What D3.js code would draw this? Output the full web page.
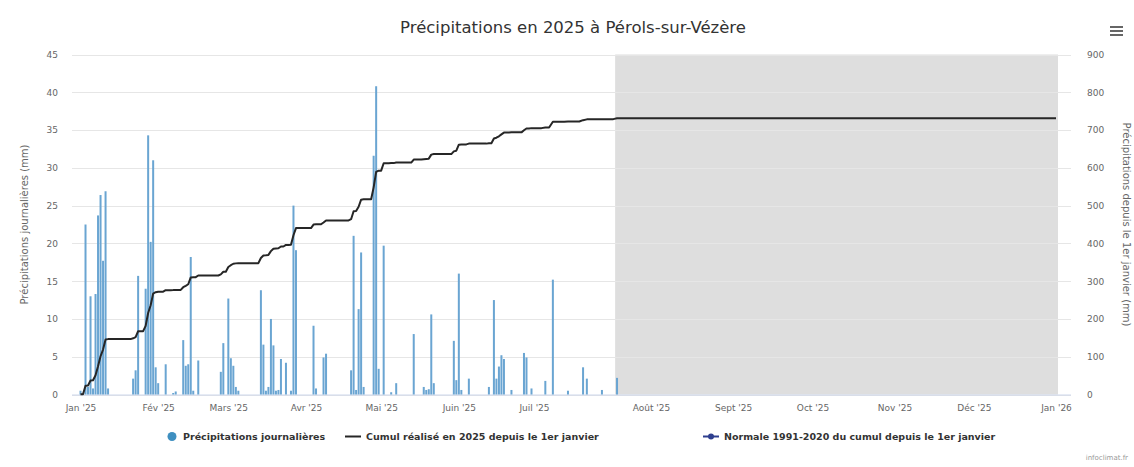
<!DOCTYPE html>
<html><head><meta charset="utf-8">
<script src="https://cdn.jsdelivr.net/npm/d3@7"></script>
<style>
html,body{margin:0;padding:0;background:#fff;}
svg{display:block;font-family:"DejaVu Sans","Liberation Sans",Arial,sans-serif;}
</style></head><body>
<svg id="chart" width="1134" height="467"></svg>
<script>
// ---- data ----
const titleText = "Précipitations en 2025 à Pérols-sur-Vézère";
const rainDates = [
 "2025-01-01","2025-01-03","2025-01-04","2025-01-05","2025-01-06","2025-01-07","2025-01-08","2025-01-09","2025-01-10","2025-01-11","2025-01-12",
 "2025-01-22","2025-01-23","2025-01-24","2025-01-27","2025-01-28","2025-01-29","2025-01-30","2025-01-31","2025-02-01",
 "2025-02-04","2025-02-07","2025-02-08","2025-02-11","2025-02-12","2025-02-13","2025-02-14","2025-02-15","2025-02-17",
 "2025-02-26","2025-02-27","2025-03-01","2025-03-02","2025-03-03","2025-03-04","2025-03-05",
 "2025-03-14","2025-03-15","2025-03-16","2025-03-17","2025-03-18","2025-03-19","2025-03-20","2025-03-21","2025-03-22","2025-03-24","2025-03-26","2025-03-27","2025-03-28",
 "2025-04-04","2025-04-05","2025-04-08","2025-04-09","2025-04-19","2025-04-20","2025-04-21","2025-04-22","2025-04-23","2025-04-24",
 "2025-04-28","2025-04-29","2025-04-30","2025-05-02","2025-05-05","2025-05-07","2025-05-14","2025-05-18","2025-05-19","2025-05-20","2025-05-21","2025-05-22",
 "2025-05-30","2025-05-31","2025-06-01","2025-06-02","2025-06-05","2025-06-13","2025-06-15","2025-06-16","2025-06-17","2025-06-18","2025-06-19",
 "2025-06-22","2025-06-27","2025-06-28","2025-06-30","2025-07-04","2025-07-06","2025-07-10","2025-07-14","2025-07-15","2025-07-19","2025-07-23"
];
const rainMm = [
 0.5,22.5,1.0,13.0,0.8,13.3,23.7,26.4,17.7,26.9,0.8,
 2.1,3.2,15.7,14.0,34.3,20.2,31.0,3.6,1.5,
 4.0,0.2,0.4,7.2,3.8,4.0,18.2,0.5,4.5,
 3.0,6.8,12.7,4.8,3.8,1.0,0.5,
 13.8,6.6,0.5,1.0,10.0,6.5,0.5,0.6,4.7,4.2,0.5,25.0,19.1,
 9.1,0.8,4.9,5.4,3.2,21.0,0.6,11.3,18.8,1.0,
 31.6,40.8,3.4,19.7,0.3,1.5,8.0,1.0,0.6,0.7,10.6,1.5,
 7.1,1.9,16.0,0.6,2.1,1.0,12.5,2.1,3.7,5.2,4.7,
 0.6,5.5,4.9,0.8,1.8,15.2,0.5,3.6,2.1,0.6,2.2
];
const monthTicks = ["2025-01-01","2025-02-01","2025-03-01","2025-04-01","2025-05-01","2025-06-01","2025-07-01","2025-08-01","2025-09-01","2025-10-01","2025-11-01","2025-12-01","2026-01-01"];
const monthLabels = ["Jan '25","Fév '25","Mars '25","Avr '25","Mai '25","Juin '25","Juil '25","Août '25","Sept '25","Oct '25","Nov '25","Déc '25","Jan '26"];
const leftTicks = [0,5,10,15,20,25,30,35,40,45];
const rightTicks = [0,100,200,300,400,500,600,700,800,900];
const leftTitle = "Précipitations journalières (mm)";
const rightTitle = "Précipitations depuis le 1er janvier (mm)";
const legendLabels = ["Précipitations journalières","Cumul réalisé en 2025 depuis le 1er janvier","Normale 1991-2020 du cumul depuis le 1er janvier"];
const bandStart = "2025-07-22T12:00:00Z";
const bandEnd = "2026-01-01";
const yearStart = "2025-01-01", yearEnd = "2026-01-01";
const creditText = "infoclimat.fr";

// ---- layout ----
const svg = d3.select("#chart");
const W = 1134, H = 467;
const plotL = 72, plotR = 1071, plotT = 54.5, plotB = 394.5;
const parse = s => new Date(s.length === 10 ? s + "T00:00:00Z" : s);

const x = d3.scaleUtc()
  .domain([parse("2025-01-01"), parse("2025-07-01"), parse("2025-08-01"), parse("2026-01-01")])
  .range([80.5, 534, 651, 1056]);
const yL = d3.scaleLinear().domain([0,45]).range([plotB, plotT]);
const yR = d3.scaleLinear().domain([0,900]).range([plotB, plotT]);

svg.append("rect").attr("width",W).attr("height",H).attr("fill","#fff");

// plot band
svg.append("rect")
  .attr("x", x(parse(bandStart))).attr("y", plotT)
  .attr("width", x(parse(bandEnd)) - x(parse(bandStart)) + 2)
  .attr("height", plotB - plotT).attr("fill", "#dedede");

// gridlines
svg.append("g").selectAll("line").data(leftTicks).join("line")
  .attr("x1", plotL).attr("x2", plotR)
  .attr("y1", d => Math.round(yL(d)) + 0.5).attr("y2", d => Math.round(yL(d)) + 0.5)
  .attr("stroke", "#e6e6e6").attr("stroke-width", 1);

// left axis labels
const gL = svg.append("g").attr("transform", `translate(${plotL - 14},0)`)
  .call(d3.axisLeft(yL).tickValues(leftTicks).tickSize(0).tickPadding(0));
gL.select(".domain").remove();
gL.selectAll("text").attr("font-size", 9).attr("fill", "#666").attr("font-family", "DejaVu Sans");

// right axis labels
const gR = svg.append("g").attr("transform", `translate(${plotR + 16},0)`)
  .call(d3.axisRight(yR).tickValues(rightTicks).tickSize(0).tickPadding(0));
gR.select(".domain").remove();
gR.selectAll("text").attr("font-size", 9).attr("fill", "#666").attr("font-family", "DejaVu Sans");

// x axis
const gX = svg.append("g").attr("transform", `translate(0,${plotB})`)
  .call(d3.axisBottom(x).tickValues(monthTicks.map(parse)).tickSize(0).tickPadding(10)
    .tickFormat((d,i) => monthLabels[i]));
gX.select(".domain").attr("stroke", "#ccd6eb").attr("d", `M${plotL},0.5H${plotR}`);
gX.selectAll("text").attr("font-size", 9).attr("fill", "#666").attr("font-family", "DejaVu Sans");

// axis titles
svg.append("text").attr("transform", `translate(28,${(plotT+plotB)/2}) rotate(-90)`)
  .attr("text-anchor","middle").attr("font-size",10).attr("fill","#666").text(leftTitle);
svg.append("text").attr("transform", `translate(1123,${(plotT+plotB)/2}) rotate(90)`)
  .attr("text-anchor","middle").attr("font-size",10).attr("fill","#666").text(rightTitle);

// bars
const bw = 2;
svg.append("g").selectAll("rect").data(rainDates.map((d,i) => ({date: parse(d), v: rainMm[i]}))).join("rect")
  .attr("x", d => x(d.date) - bw/2).attr("width", bw)
  .attr("y", d => yL(d.v)).attr("height", d => plotB - yL(d.v))
  .attr("fill", "#6aa5d2");

// cumulative line (running sum of daily values)
const rainByDay = new Map(rainDates.map((d,i) => [d, rainMm[i]]));
const days = d3.utcDay.range(parse(yearStart), d3.utcDay.offset(parse(yearEnd), 1));
let acc = 0;
const cumul = days.map(d => { acc += rainByDay.get(d.toISOString().slice(0,10)) || 0; return {date: d, v: acc}; });
svg.append("path").datum(cumul)
  .attr("d", d3.line().x(d => x(d.date)).y(d => yR(d.v)))
  .attr("fill","none").attr("stroke","#262626").attr("stroke-width",2).attr("stroke-linejoin","round");

// title
svg.append("text").attr("x", 573).attr("y", 33).attr("text-anchor","middle")
  .attr("font-size", 16.5).attr("fill","#333").text(titleText);

// menu icon
svg.append("g").selectAll("line").data([0,1,2]).join("line")
  .attr("x1",1110).attr("x2",1123).attr("y1",d=>27+d*4).attr("y2",d=>27+d*4)
  .attr("stroke","#666").attr("stroke-width",2);

// legend
const legendX = [167, 345, 703];
const lg = svg.append("g").attr("font-size", 9.5).attr("font-weight","bold").attr("fill","#333");
const items = lg.selectAll("g").data(legendLabels).join("g")
  .attr("transform", (d,i) => `translate(${legendX[i]},0)`);
items.append("text").attr("y", 440).attr("x", (d,i) => i === 0 ? 16 : 21).text(d => d);
items.filter((d,i)=>i===0).append("circle").attr("cx",5).attr("cy",436.5).attr("r",4.5).attr("fill","#3e8fc0");
items.filter((d,i)=>i===1).append("line").attr("x1",0).attr("x2",16).attr("y1",436.5).attr("y2",436.5).attr("stroke","#262626").attr("stroke-width",2);
items.filter((d,i)=>i===2).append("line").attr("x1",0).attr("x2",16).attr("y1",436.5).attr("y2",436.5).attr("stroke","#2f3f8f").attr("stroke-width",2);
items.filter((d,i)=>i===2).append("circle").attr("cx",8).attr("cy",436.5).attr("r",3).attr("fill","#2f3f8f");

// credit
svg.append("text").attr("x",1128).attr("y",460).attr("text-anchor","end")
  .attr("font-size",7).attr("fill","#999").text(creditText);
</script>
</body></html>
